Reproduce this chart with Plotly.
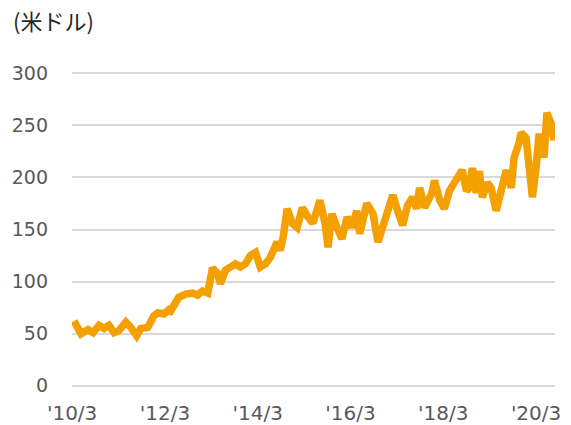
import plotly.graph_objects as go

# Share price (USD)
dates = [
    "2010-03-16", "2010-04-02", "2010-05-10", "2010-07-04", "2010-08-13", "2010-09-29",
    "2010-11-08", "2010-12-16", "2011-01-25", "2011-03-04", "2011-04-28", "2011-06-06",
    "2011-07-22", "2011-08-24", "2011-10-18", "2011-12-04", "2012-01-04", "2012-02-21",
    "2012-04-01", "2012-04-15", "2012-06-18", "2012-08-12", "2012-10-06", "2012-11-13",
    "2012-12-22", "2013-02-01", "2013-03-10", "2013-04-18", "2013-05-12", "2013-06-20",
    "2013-07-28", "2013-09-06", "2013-10-16", "2013-11-24", "2014-01-03", "2014-02-12",
    "2014-03-21", "2014-05-01", "2014-06-07", "2014-06-24", "2014-08-01", "2014-08-25",
    "2014-09-18", "2014-10-19", "2014-11-28", "2015-01-06", "2015-02-15", "2015-04-01",
    "2015-05-10", "2015-07-04", "2015-08-13", "2015-09-06", "2015-10-06", "2015-11-15",
    "2015-12-24", "2016-02-03", "2016-03-12", "2016-04-19", "2016-05-13", "2016-07-07",
    "2016-08-01", "2016-08-25", "2016-10-03", "2016-11-03", "2016-12-12", "2017-01-28",
    "2017-03-07", "2017-04-15", "2017-05-24", "2017-07-03", "2017-08-03", "2017-08-27",
    "2017-10-06", "2017-12-01", "2017-12-22", "2018-02-01", "2018-03-10", "2018-04-18",
    "2018-05-28", "2018-07-06", "2018-07-28", "2018-08-31", "2018-09-22", "2018-10-16",
    "2018-11-16", "2018-12-10", "2019-01-03", "2019-02-12", "2019-03-13", "2019-04-22",
    "2019-06-01", "2019-07-10", "2019-08-18", "2019-09-10", "2019-10-19", "2019-11-04",
    "2019-12-13", "2020-01-06", "2020-02-01", "2020-03-01", "2020-03-25", "2020-05-03",
    "2020-05-25", "2020-06-27", "2020-07-19", "2020-08-04",
]
prices = [
    62, 58, 50, 54, 51, 58,
    55, 58, 51, 53, 61, 56,
    48, 55, 56, 67, 70, 69,
    73, 72, 85, 88, 89, 87,
    91, 89, 113, 108, 98, 111,
    114, 117, 114, 117, 125, 128,
    114, 117, 123, 128, 138, 130,
    143, 170, 156, 152, 171, 162,
    156, 178, 156, 133, 165, 152,
    141, 162, 152, 168, 146, 175,
    171, 165, 138, 149, 165, 183,
    168, 154, 173, 181, 170, 190,
    171, 185, 197, 178, 170, 187,
    195, 204, 207, 187, 190, 209,
    185, 206, 181, 195, 190, 168,
    189, 207, 190, 219, 233, 243,
    238, 216, 181, 210, 242, 219,
    262, 252, 236, 248,
]

tick_vals = ["2010-03-01", "2012-03-01", "2014-03-01", "2016-03-01", "2018-03-01", "2020-03-01"]
tick_text = ["'10/3", "'12/3", "'14/3", "'16/3", "'18/3", "'20/3"]
y_ticks = [0, 50, 100, 150, 200, 250, 300]

fig = go.Figure()
fig.add_trace(go.Scatter(
    x=dates, y=prices, mode="lines",
    line=dict(color="#F4A000", width=7.5),
    hoverinfo="skip",
))

fig.update_layout(
    width=571, height=425,
    margin=dict(l=72, r=16, t=68, b=34),
    paper_bgcolor="white", plot_bgcolor="white",
    showlegend=False,
    font=dict(family="DejaVu Sans", color="#595959", size=19),
    annotations=[dict(
        text="(米ドル)", x=0, y=1, xref="paper", yref="paper",
        xshift=-61, yshift=48, xanchor="left", yanchor="middle", showarrow=False,
        font=dict(family="Noto Sans CJK JP", size=22, color="#262626"),
    )],
)
fig.update_xaxes(
    type="date", range=["2010-02-28", "2020-07-28"],
    tickmode="array", tickvals=tick_vals, ticktext=tick_text,
    tickfont=dict(size=20),
    showgrid=False, zeroline=False, showline=False, ticks="",
    ticklabelstandoff=8, automargin=False,
)
fig.update_yaxes(
    range=[-5, 305], tickmode="array", tickvals=y_ticks,
    showgrid=True, gridcolor="#D9D9D9", gridwidth=2,
    zeroline=False, showline=False, ticks="",
    ticklabelstandoff=23, automargin=False,
)

fig.write_html("out.html", config={"displayModeBar": False},
               post_script="document.body.style.margin='0';")
